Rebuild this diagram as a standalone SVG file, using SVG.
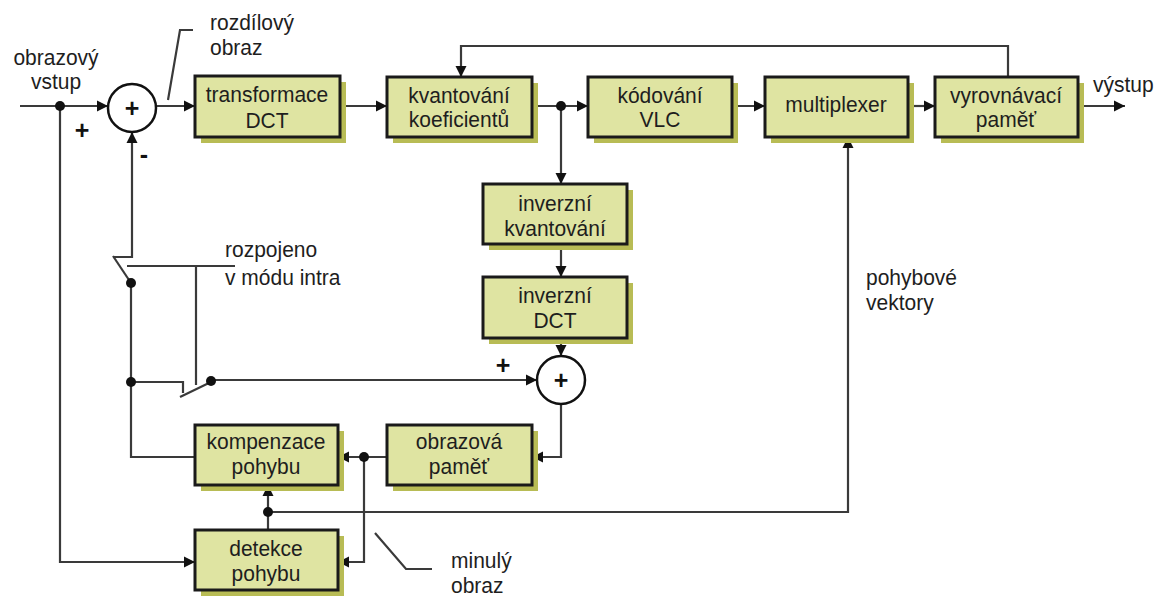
<svg xmlns="http://www.w3.org/2000/svg" width="1172" height="596" viewBox="0 0 1172 596">
  <style>
    .shadow { fill: #b8bc55; }
    .box { fill: #dfe4a2; stroke: #1a1a1a; stroke-width: 3; }
    .lbl { font-family: "Liberation Sans", Arial, sans-serif; font-size: 21px; fill: #1e1e1e; }
    .sign { font-family: "Liberation Sans", Arial, sans-serif; font-size: 25px; font-weight: bold; fill: #111; text-anchor: middle; }
    .mid { text-anchor: middle; }
    .wire { fill: none; stroke: #3a3a3a; stroke-width: 2.2; }
    .arr { marker-end: url(#head); }
    .dot { fill: #111; }
    .sum { fill: #fff; stroke: #111; stroke-width: 2.5; }
  </style>
  <defs>
    <marker id="head" markerUnits="userSpaceOnUse" markerWidth="12" markerHeight="12" refX="11" refY="6" orient="auto">
      <path d="M0,0.5 L11,6 L0,11.5 z" fill="#111"/>
    </marker>
  </defs>
  <rect width="1172" height="596" fill="#fff"/>

  <!-- connectors -->
  <g id="connectors">
    <!-- main forward path -->
    <path class="wire arr" d="M20,106 H108"/>
    <path class="wire arr" d="M156,106 H195"/>
    <path class="wire arr" d="M340,106 H387"/>
    <path class="wire arr" d="M532,106 H588"/>
    <path class="wire arr" d="M732,106 H765"/>
    <path class="wire arr" d="M908,106 H935"/>
    <path class="wire arr" d="M1078,106 H1125"/>
    <!-- buffer fullness feedback to quantiser -->
    <path class="wire arr" d="M1008,77 V46 H461 V77"/>
    <!-- inverse path -->
    <path class="wire arr" d="M561,106 V184"/>
    <path class="wire arr" d="M561,244 V277"/>
    <path class="wire arr" d="M561,338 V356"/>
    <path class="wire arr" d="M561,404 V457 H532"/>
    <path class="wire arr" d="M387,457 H338"/>
    <path class="wire arr" d="M364,457 V562 H338"/>
    <!-- input branch to motion estimation -->
    <path class="wire arr" d="M60,106 V562 H195"/>
    <!-- prediction loop with intra switches -->
    <path class="wire" d="M195,457 H131 V283"/>
    <path class="wire arr" d="M113,257 H132 V132"/>
    <path class="wire" d="M113,256 L131,283"/>
    <path class="wire" d="M127,266 H235"/>
    <path class="wire" d="M196,266 V385"/>
    <path class="wire" d="M131,382 H183 V393"/>
    <path class="wire" d="M180,397 L211,382"/>
    <path class="wire arr" d="M211,380 H537"/>
    <!-- motion vectors -->
    <path class="wire arr" d="M268,530 V485"/>
    <path class="wire arr" d="M268,512 H848 V137"/>
    <!-- label leaders -->
    <path class="wire" d="M168,100 L180,30 H193"/>
    <path class="wire" d="M375,533 L406,569 H432"/>
    <!-- junction dots -->
    <circle class="dot" cx="60" cy="106" r="5"/>
    <circle class="dot" cx="561" cy="106" r="5"/>
    <circle class="dot" cx="131" cy="283" r="5"/>
    <circle class="dot" cx="131" cy="382" r="5"/>
    <circle class="dot" cx="211" cy="381" r="5"/>
    <circle class="dot" cx="364" cy="457" r="5"/>
    <circle class="dot" cx="268" cy="512" r="5"/>
  </g>

  <!-- summing junctions -->
  <g id="sum1">
    <circle class="sum" cx="132" cy="108" r="24"/>
    <text class="sign" x="132" y="117">+</text>
  </g>
  <g id="sum2">
    <circle class="sum" cx="561" cy="380" r="24"/>
    <text class="sign" x="561" y="389">+</text>
  </g>

  <g id="dct">
    <rect class="shadow" x="201" y="82" width="145" height="61"/>
    <rect class="box" x="195" y="76" width="145" height="61"/>
    <text class="lbl mid" transform="translate(267,102) scale(1,1.06)">transformace</text>
    <text class="lbl mid" transform="translate(267,128) scale(1,1.06)">DCT</text>
  </g>
  <g id="kvant">
    <rect class="shadow" x="393" y="83" width="145" height="60"/>
    <rect class="box" x="387" y="77" width="145" height="60"/>
    <text class="lbl mid" transform="translate(459,103) scale(1,1.06)">kvantování</text>
    <text class="lbl mid" transform="translate(459,127) scale(1,1.06)">koeficientů</text>
  </g>
  <g id="vlc">
    <rect class="shadow" x="594" y="83" width="144" height="60"/>
    <rect class="box" x="588" y="77" width="144" height="60"/>
    <text class="lbl mid" transform="translate(660,103) scale(1,1.06)">kódování</text>
    <text class="lbl mid" transform="translate(660,127) scale(1,1.06)">VLC</text>
  </g>
  <g id="mux">
    <rect class="shadow" x="771" y="83" width="143" height="60"/>
    <rect class="box" x="765" y="77" width="143" height="60"/>
    <text class="lbl mid" transform="translate(836,112) scale(1,1.06)">multiplexer</text>
  </g>
  <g id="buffer">
    <rect class="shadow" x="941" y="83" width="143" height="60"/>
    <rect class="box" x="935" y="77" width="143" height="60"/>
    <text class="lbl mid" transform="translate(1006,103) scale(1,1.06)">vyrovnávací</text>
    <text class="lbl mid" transform="translate(1006,127) scale(1,1.06)">paměť</text>
  </g>
  <g id="ikvant">
    <rect class="shadow" x="489" y="190" width="144" height="60"/>
    <rect class="box" x="483" y="184" width="144" height="60"/>
    <text class="lbl mid" transform="translate(555,211) scale(1,1.06)">inverzní</text>
    <text class="lbl mid" transform="translate(555,236) scale(1,1.06)">kvantování</text>
  </g>
  <g id="idct">
    <rect class="shadow" x="489" y="283" width="144" height="61"/>
    <rect class="box" x="483" y="277" width="144" height="61"/>
    <text class="lbl mid" transform="translate(555,303) scale(1,1.06)">inverzní</text>
    <text class="lbl mid" transform="translate(555,328) scale(1,1.06)">DCT</text>
  </g>
  <g id="kompenzace">
    <rect class="shadow" x="201" y="431" width="143" height="60"/>
    <rect class="box" x="195" y="425" width="143" height="60"/>
    <text class="lbl mid" transform="translate(266,449) scale(1,1.06)">kompenzace</text>
    <text class="lbl mid" transform="translate(266,474) scale(1,1.06)">pohybu</text>
  </g>
  <g id="obrpamet">
    <rect class="shadow" x="393" y="431" width="145" height="60"/>
    <rect class="box" x="387" y="425" width="145" height="60"/>
    <text class="lbl mid" transform="translate(459,449) scale(1,1.06)">obrazová</text>
    <text class="lbl mid" transform="translate(459,474) scale(1,1.06)">paměť</text>
  </g>
  <g id="detekce">
    <rect class="shadow" x="201" y="536" width="143" height="60"/>
    <rect class="box" x="195" y="530" width="143" height="60"/>
    <text class="lbl mid" transform="translate(266,556) scale(1,1.06)">detekce</text>
    <text class="lbl mid" transform="translate(266,581) scale(1,1.06)">pohybu</text>
  </g>

  <!-- free labels -->
  <g id="labels">
    <text class="lbl mid" transform="translate(56,65) scale(1,1.06)">obrazový</text>
    <text class="lbl mid" transform="translate(56,89) scale(1,1.06)">vstup</text>
    <text class="lbl" transform="translate(210,30) scale(1,1.06)">rozdílový</text>
    <text class="lbl" transform="translate(210,55) scale(1,1.06)">obraz</text>
    <text class="lbl" transform="translate(1093,92) scale(1,1.06)">výstup</text>
    <text class="sign" x="82" y="139">+</text>
    <text class="sign" x="144" y="163">-</text>
    <text class="sign" x="503" y="374">+</text>
    <text class="lbl" transform="translate(225,257) scale(1,1.06)">rozpojeno</text>
    <text class="lbl" transform="translate(225,285) scale(1,1.06)">v módu intra</text>
    <text class="lbl" transform="translate(866,285) scale(1,1.06)">pohybové</text>
    <text class="lbl" transform="translate(866,310) scale(1,1.06)">vektory</text>
    <text class="lbl" transform="translate(451,568) scale(1,1.06)">minulý</text>
    <text class="lbl" transform="translate(451,593) scale(1,1.06)">obraz</text>
  </g>
</svg>
